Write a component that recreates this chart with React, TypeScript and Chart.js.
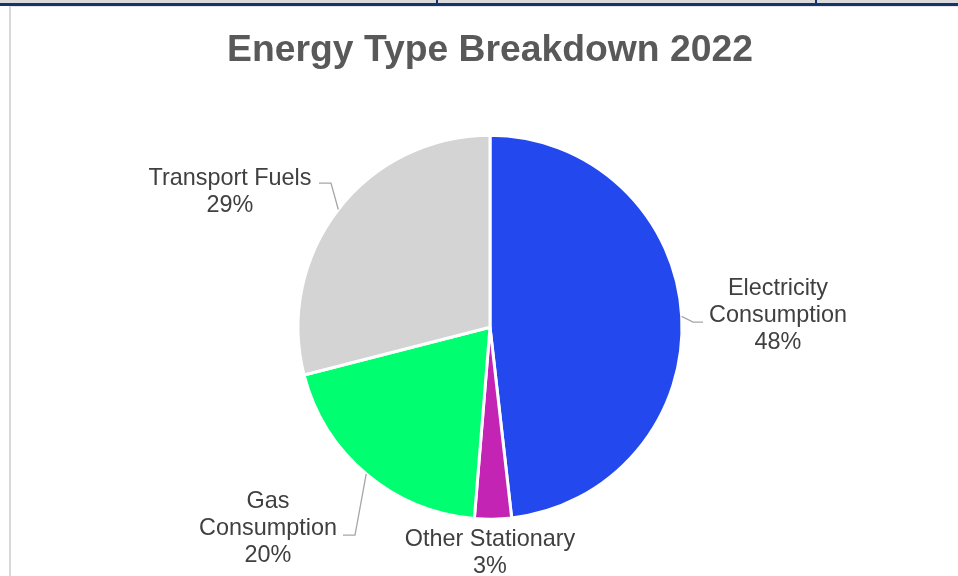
import React, { useEffect, useRef } from "react";
import { Chart, registerables } from "chart.js";

Chart.register(...registerables);

const categories = ["Electricity Consumption", "Other Stationary", "Gas Consumption", "Transport Fuels"];
const shares = [48.2, 3.1, 19.7, 29.0];
const labelLines = [["Electricity", "Consumption"], ["Other Stationary"], ["Gas", "Consumption"], ["Transport Fuels"]];
const sliceColors = ["#2349EE", "#C424B4", "#00FF70", "#D4D4D4"];
const chartTitle = "Energy Type Breakdown 2022";

// label placement relative to pie centre (layout only)
const labelLayout = [
  { x: 288, y: -39, leader: [[203, -5], [213, -5]] },
  { x: 0, y: 212, leader: [] },
  { x: -222, y: 174, leader: [[-135, 208], [-147, 208]] },
  { x: -260, y: -149, leader: [[-159, -144], [-171, -144]] },
];

const FONT = "'Liberation Sans', Arial, Helvetica, sans-serif";

const outsideLabels = {
  id: "outsideLabels",
  afterDatasetsDraw(chart: any) {
    const ctx = chart.ctx;
    const meta = chart.getDatasetMeta(0);
    const data = chart.data.datasets[0].data as number[];
    const total = data.reduce((a, b) => a + b, 0);
    ctx.save();
    meta.data.forEach((arc: any, i: number) => {
      const { x, y, startAngle, endAngle, outerRadius } = arc.getProps(["x", "y", "startAngle", "endAngle", "outerRadius"], true);
      const mid = (startAngle + endAngle) / 2;
      const ax = x + Math.cos(mid) * outerRadius;
      const ay = y + Math.sin(mid) * outerRadius;
      const lay = labelLayout[i];
      if (lay.leader.length) {
        ctx.beginPath();
        ctx.strokeStyle = "#A6A6A6";
        ctx.lineWidth = 1.3;
        ctx.moveTo(ax, ay);
        lay.leader.forEach((p) => ctx.lineTo(x + p[0], y + p[1]));
        ctx.stroke();
      }
      const lines = [...labelLines[i], Math.round((data[i] / total) * 100) + "%"];
      ctx.fillStyle = "#404040";
      ctx.font = `23.4px ${FONT}`;
      ctx.textAlign = "center";
      ctx.textBaseline = "middle";
      lines.forEach((t, k) => ctx.fillText(t, x + lay.x, y + lay.y + k * 27));
    });
    ctx.restore();
  },
};

export default function App() {
  const ref = useRef<HTMLCanvasElement>(null);
  useEffect(() => {
    if (!ref.current) return;
    const chart = new Chart(ref.current, {
      type: "pie",
      data: {
        labels: categories,
        datasets: [
          {
            data: shares,
            backgroundColor: sliceColors,
            borderColor: "#FFFFFF",
            borderWidth: 3,
          },
        ],
      },
      options: {
        responsive: false,
        animation: false,
        radius: 192,
        layout: { padding: { left: 11, right: 0, top: 0, bottom: 0 } },
        plugins: {
          legend: { display: false },
          tooltip: { enabled: false },
          title: {
            display: true,
            text: chartTitle,
            color: "#595959",
            font: { family: FONT, size: 37.3, weight: "bold", lineHeight: 1.2 },
            padding: { top: 21, bottom: 5.6 },
          },
        },
      } as any,
      plugins: [outsideLabels],
    });
    return () => chart.destroy();
  }, []);

  return (
    <div style={{ position: "fixed", left: 0, top: 0, width: 958, height: 576, overflow: "hidden", background: "#FFFFFF" }}>
      <div style={{ position: "absolute", left: 0, top: 0, width: 958, height: 3, background: "#DADADA" }} />
      <div style={{ position: "absolute", left: 436, top: 0, width: 2, height: 3, background: "#14346E" }} />
      <div style={{ position: "absolute", left: 815, top: 0, width: 2, height: 3, background: "#14346E" }} />
      <div style={{ position: "absolute", left: 0, top: 3, width: 958, height: 3, background: "#14346E" }} />
      <div
        style={{
          position: "absolute",
          left: 9,
          top: 6,
          width: 949,
          height: 570,
          borderLeft: "2px solid #D9D9D9",
          borderTop: "1px solid #E6E6E6",
          background: "#FFFFFF",
          boxSizing: "border-box",
        }}
      />
      <canvas ref={ref} width={947} height={569} style={{ position: "absolute", left: 11, top: 7, width: 947, height: 569 }} />
    </div>
  );
}
